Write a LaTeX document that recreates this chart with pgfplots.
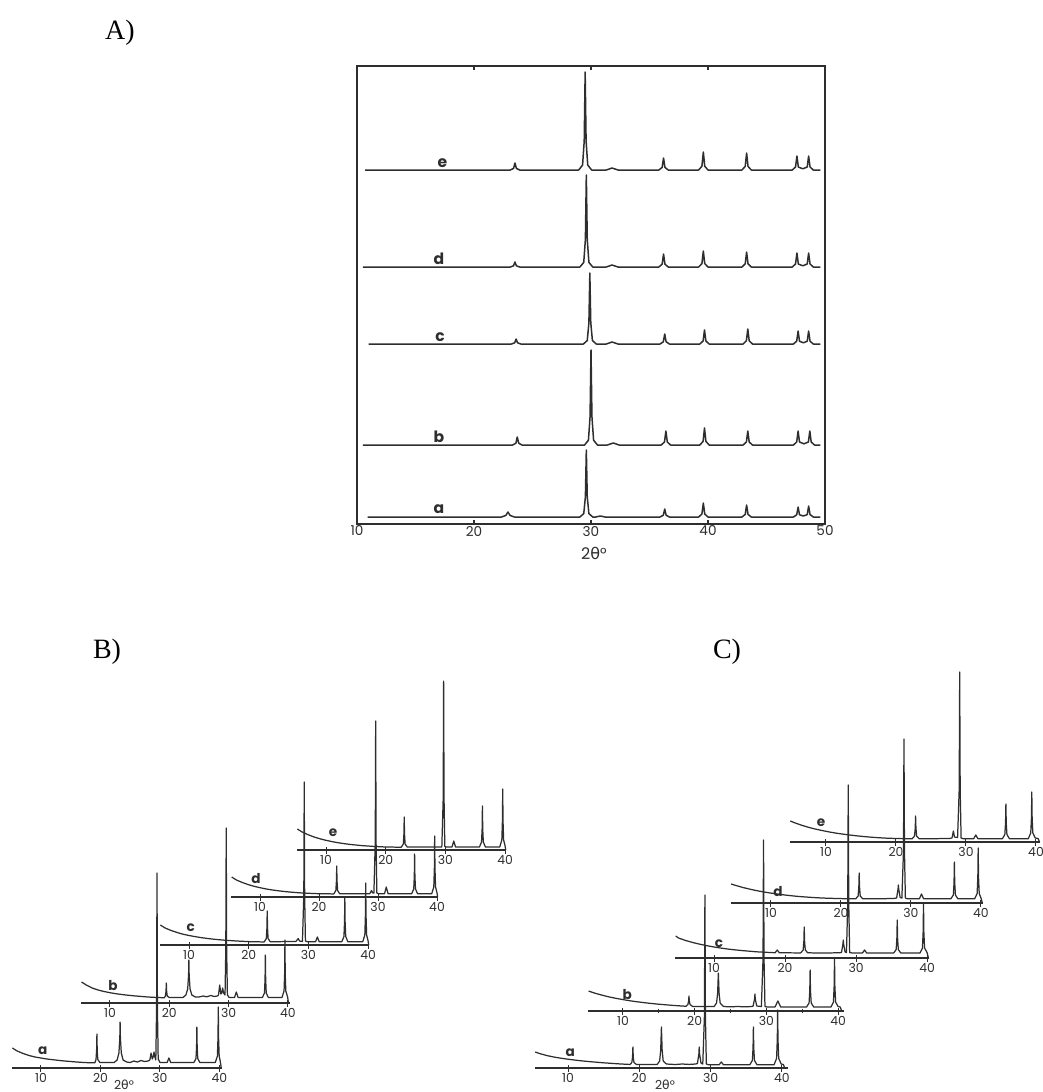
\documentclass[border=0pt]{standalone}
\usepackage{fontspec}
\setmainfont{Liberation Serif}
\newfontfamily\lab{Poppins}
\newfontfamily\gr{DejaVu Sans}
\usepackage{pgfplots}
\pgfplotsset{compat=1.18}
\colorlet{ink}{black!82}
\pgfplotsset{
  tr/.style={ink, line width=0.62pt, line join=round, mark=none},
  tra/.style={ink, line width=0.75pt, line join=round, mark=none},
  wf/.style={anchor=south west, axis x line*=bottom, axis y line=none, y=0.5pt, ymin=0, ymax=200,
    enlargelimits=false, clip=false, xtick={10,20,30,40}, ytick=\empty, tick align=center,
    major tick length=3.5pt, tick style={ink, line width=0.5pt}, axis line style={ink, line width=0.55pt},
    tick label style={font=\lab\fontsize{6.2}{7}\selectfont, text=ink, inner sep=0.5pt},
    /pgf/number format/assume math mode=true},
}
\newcommand\lbl[3]{\node[font=\lab\bfseries\fontsize{6.8}{7}\selectfont, text=ink] at (axis cs:#1,#2) {#3};}
\newcommand\lbla[3]{\node[font=\lab\bfseries\fontsize{7.8}{8}\selectfont, text=ink] at (axis cs:#1,#2) {#3};}
\begin{document}
\begin{tikzpicture}
\path[use as bounding box] (0,0) rectangle (521.5pt,-546pt);
\node[font=\fontsize{14}{16}\selectfont] at (60pt,-16.5pt) {A)};
\node[font=\fontsize{14}{16}\selectfont] at (53.5pt,-326pt) {B)};
\node[font=\fontsize{14}{16}\selectfont] at (363.5pt,-326pt) {C)};
% ---------------- Panel A ----------------
\begin{axis}[anchor=south west, at={(178.5pt,-262pt)}, x=5.85pt, y=0.5pt, xmin=10, xmax=50, ymin=0, ymax=458,
  enlargelimits=false, clip=false, xtick={10,20,30,40,50}, ytick=\empty, tick align=inside, major tick length=2.2pt,
  tick style={ink, line width=0.8pt}, axis line style={ink, line width=0.8pt},
  tick label style={font=\lab\fontsize{6.8}{7}\selectfont, text=ink, inner sep=0.8pt},
  /pgf/number format/assume math mode=true]
\addplot[tra] coordinates {(10.7,354)(23.1,354)(23.38,355.6)(23.5,361)(23.62,355.6)(23.9,354)
(28.95,354)(29.28,359)(29.42,383)(29.5,452)(29.58,383)(29.72,359)(30.05,354)
(31.3,354)(31.8,356)(32.3,354)
(35.8,354)(36.08,356.6)(36.2,366)(36.32,356.6)(36.6,354)
(39.2,354)(39.48,357.8)(39.6,372)(39.72,357.8)(40.0,354)
(42.9,354)(43.18,357.6)(43.3,371)(43.42,357.6)(43.7,354)
(47.2,354)(47.48,357)(47.6,368)(47.72,357)(48.1,355.2)(48.48,357)(48.6,368)(48.72,357)(49.0,354)(49.6,354)};
\addplot[tra] coordinates {(10.5,257)(23.1,257)(23.38,258.2)(23.5,262)(23.62,258.2)(23.9,257)
(29.05,257)(29.38,261.6)(29.52,284.6)(29.6,349)(29.68,284.6)(29.82,261.6)(30.15,257)
(31.3,257)(31.8,259)(32.3,257)
(35.8,257)(36.08,259.8)(36.2,270)(36.32,259.8)(36.6,257)
(39.2,257)(39.48,260.4)(39.6,273)(39.72,260.4)(40.0,257)
(42.9,257)(43.18,260.2)(43.3,272)(43.42,260.2)(43.7,257)
(47.2,257)(47.48,260)(47.6,271)(47.72,260)(48.1,258.2)(48.48,260)(48.6,271)(48.72,260)(49.0,257)(49.6,257)};
\addplot[tra] coordinates {(11.0,180)(23.2,180)(23.48,181.2)(23.6,185)(23.72,181.2)(24.0,180)
(29.35,180)(29.68,183.5)(29.82,201.3)(29.9,251)(29.98,201.3)(30.12,183.5)(30.45,180)
(31.3,180)(31.8,182)(32.3,180)
(35.9,180)(36.18,182.2)(36.3,190)(36.42,182.2)(36.7,180)
(39.3,180)(39.58,183)(39.7,194)(39.82,183)(40.1,180)
(43.0,180)(43.28,183.2)(43.4,195)(43.52,183.2)(43.8,180)
(47.3,180)(47.58,182.8)(47.7,193)(47.82,182.8)(48.15,181.2)(48.48,182.8)(48.6,193)(48.72,182.8)(49.0,180)(49.6,180)};
\addplot[tra] coordinates {(10.5,79)(23.3,79)(23.58,80.8)(23.7,87)(23.82,80.8)(24.1,79)
(29.45,79)(29.78,83.8)(29.92,107.5)(30.0,174)(30.08,107.5)(30.22,83.8)(30.55,79)
(31.4,79)(31.9,81)(32.4,79)
(36.0,79)(36.28,82)(36.4,93)(36.52,82)(36.8,79)
(39.3,79)(39.58,82.6)(39.7,96)(39.82,82.6)(40.1,79)
(43.0,79)(43.28,82)(43.4,93)(43.52,82)(43.8,79)
(47.3,79)(47.58,82)(47.7,93)(47.82,82)(48.2,80.2)(48.58,82)(48.7,93)(48.82,82)(49.1,79)(49.6,79)};
\addplot[tra] coordinates {(10.9,7)(22.35,7)(22.72,8.6)(22.9,12)(23.08,8.6)(23.45,7)
(29.05,7)(29.38,10.4)(29.52,27.1)(29.6,74)(29.68,27.1)(29.82,10.4)(30.15,7)
(30.4,7)(30.8,8)(31.2,7)
(35.9,7)(36.18,8.8)(36.3,15)(36.42,8.8)(36.7,7)
(39.2,7)(39.48,10)(39.6,21)(39.72,10)(40.0,7)
(42.9,7)(43.18,9.6)(43.3,19)(43.42,9.6)(43.7,7)
(47.3,7)(47.58,9.2)(47.7,17)(47.82,9.2)(48.15,8)(48.48,9.4)(48.6,18)(48.72,9.4)(49.0,7)(49.6,7)};
\lbla{17.3}{361}{e}\lbla{17.0}{265}{d}\lbla{17.1}{187}{c}\lbla{17.0}{87}{b}\lbla{17.0}{15}{a}
\end{axis}
\node[font=\lab\fontsize{8}{9}\selectfont, text=ink] at (297pt,-276.5pt) {2{\gr θ}°};
% ---------------- Panel B ----------------
\begin{axis}[wf, at={(6pt,-534pt)}, x=2.975pt, xmin=5.13, xmax=40.4]
\addplot[tr] coordinates {(5.2,20)(6,17)(7,14.5)(8,12.5)(9,11)(10,10)(11,9)(12,8.3)(13,7.6)(14,7)(15,6.5)(16,6)(17,5.6)(18,5.3)(18.9,5.2)
(19.05,5.2)(19.25,8.5)(19.35,18)(19.4,34)(19.45,18)(19.55,8.5)(19.9,5.5)
(22.3,5.5)(22.8,8)(23.1,15)(23.25,30)(23.3,46)(23.35,30)(23.5,15)(23.8,8)(24.4,6)
(25,5.5)(25.6,7)(26.2,6)(26.8,7.5)(27.4,6.5)(28.0,7)
(28.3,8)(28.5,15)(28.7,9)(28.85,11)(29.0,16)(29.1,12)
(29.3,8)(29.43,60)(29.5,195)(29.57,60)(29.7,9)(30.0,5.5)
(31.2,5.5)(31.5,10)(31.8,5.5)
(35.7,5.5)(36.05,9.5)(36.15,21)(36.2,41)(36.25,21)(36.35,9.5)(36.7,5.5)
(39.3,5.5)(39.65,12)(39.75,30)(39.8,61)(39.85,30)(39.95,12)(40.15,6)(40.3,0)};
\lbl{10.3}{17}{a}
\end{axis}
\node[font=\lab\fontsize{6.2}{7}\selectfont, text=ink] at (62pt,-542.3pt) {2{\gr θ}°};
\begin{axis}[wf, at={(40.5pt,-501.5pt)}, x=2.965pt, xmin=5.11, xmax=40.35]
\addplot[tr] coordinates {(5.2,21)(6,18)(7,15)(8,13)(9,11.5)(10,10.3)(11,9.3)(12,8.5)(13,7.8)(14,7.2)(15,6.7)(16,6.2)(17,5.8)(18,5.5)(19.0,5.3)
(19.15,5.3)(19.35,7)(19.45,12)(19.5,20)(19.55,12)(19.65,7)(20.0,5.5)
(22.3,5.5)(22.8,8)(23.1,14)(23.25,28)(23.3,43)(23.35,28)(23.5,14)(23.8,8)(24.4,6)
(25,6)(25.7,7)(26.3,6.2)(27,7.5)(27.6,6.5)(28.1,7)
(28.3,8)(28.5,18)(28.7,9)(28.85,10)(29.0,15)(29.15,10)
(29.4,8)(29.53,55)(29.6,175)(29.67,55)(29.8,8)(30.1,5.5)
(31.0,5.5)(31.3,11)(31.6,5.5)
(35.7,5.5)(36.05,10)(36.15,24)(36.2,48)(36.25,24)(36.35,10)(36.7,5.5)
(39.0,5.5)(39.35,12)(39.45,29)(39.5,63)(39.55,29)(39.65,12)(39.95,6)(40.1,0)};
\lbl{10.5}{17}{b}
\end{axis}
\begin{axis}[wf, at={(80pt,-472.5pt)}, x=2.985pt, xmin=5.14, xmax=40.1]
\addplot[tr] coordinates {(5.2,20)(6,17)(7,14.5)(8,12.5)(9,10.8)(10,9.5)(11,8.4)(12,7.4)(13,6.6)(14,5.9)(15,5.3)(16,4.8)(17,4.4)(18,4)(19,3.7)(20,3.4)(21,3.2)(22.5,3.1)
(22.6,3.1)(22.95,6.5)(23.05,17)(23.1,34)(23.15,17)(23.25,6.5)(23.6,3.3)
(27.9,3.5)(28.3,6.5)(28.5,4)
(29.0,3.5)(29.23,50)(29.3,163)(29.37,50)(29.5,4)(29.8,3.3)
(31.2,3.3)(31.5,8)(31.8,3.3)
(35.6,3.3)(35.95,8.5)(36.05,23)(36.1,47)(36.15,23)(36.25,8.5)(36.6,3.3)
(39.1,3.3)(39.45,10)(39.55,30)(39.6,62)(39.65,30)(39.75,10)(40.0,4)(40.1,0)};
\lbl{10.3}{17}{c}
\end{axis}
\begin{axis}[wf, at={(115.5pt,-448.5pt)}, x=2.95pt, xmin=5.08, xmax=40.1]
\addplot[tr] coordinates {(5.2,20)(6,17)(7,14.5)(8,12.4)(9,10.7)(10,9.3)(11,8.1)(12,7.1)(13,6.3)(14,5.6)(15,5)(16,4.5)(17,4.1)(18,3.8)(19,3.5)(20,3.3)(22.4,3.1)
(22.5,3.1)(22.85,6.5)(22.95,16)(23.0,31)(23.05,16)(23.15,6.5)(23.5,3.3)
(28.6,3.3)(28.9,6.5)(29.1,4)
(29.3,4)(29.53,55)(29.6,176)(29.67,55)(29.8,4)(30.1,3.3)
(31.1,3.3)(31.4,10)(31.7,3.3)
(35.7,3.3)(36.05,8)(36.15,21)(36.2,43)(36.25,21)(36.35,8)(36.7,3.3)
(39.1,3.3)(39.45,10)(39.55,29)(39.6,61)(39.65,29)(39.75,10)(40.0,4)(40.1,0)};
\lbl{9.3}{18}{d}
\end{axis}
\begin{axis}[wf, at={(148.5pt,-425pt)}, x=2.985pt, xmin=5.14, xmax=40.1]
\addplot[tr] coordinates {(5.2,21)(6,18)(7,15.3)(8,13)(9,11.2)(10,9.7)(11,8.4)(12,7.3)(13,6.4)(14,5.6)(15,5)(16,4.4)(17,4)(18,3.6)(19,3.3)(20,3)(22.5,2.8)
(22.6,2.8)(22.95,6)(23.05,16)(23.1,33)(23.15,16)(23.25,6)(23.6,3)
(29.4,3)(29.63,52)(29.7,169)(29.77,52)(29.9,3.5)(30.2,3)
(31.1,3)(31.4,9)(31.7,3)
(35.7,3)(36.05,8)(36.15,21)(36.2,44)(36.25,21)(36.35,8)(36.7,3)
(39.1,3)(39.45,10)(39.55,29)(39.6,61)(39.65,29)(39.75,10)(40.0,4)(40.1,0)};
\lbl{11.2}{17}{e}
\end{axis}
% ---------------- Panel C ----------------
\begin{axis}[wf, at={(267.5pt,-534pt)}, x=3.565pt, xmin=5.37, xmax=40.8]
\addplot[tr] coordinates {(5.4,16)(6,14.5)(7,12.5)(8,11)(9,9.8)(10,8.8)(11,7.9)(12,7.1)(13,6.4)(14,5.8)(15,5.2)(16,4.7)(17,4.2)(18,3.8)(18.6,3.6)
(18.7,3.6)(18.95,5.5)(19.05,11)(19.1,21)(19.15,11)(19.25,5.5)(19.6,3.5)
(22.5,3.5)(22.85,7)(23.0,18)(23.1,41)(23.2,18)(23.35,7)(23.8,4)
(25,3.5)(26,4)(27,3.6)(27.9,4)
(28.15,4.5)(28.35,14)(28.4,21)(28.45,14)(28.65,5)
(28.9,4)(29.13,52)(29.2,173)(29.27,52)(29.4,4)(29.7,3.3)
(31.2,3.3)(31.5,6)(31.8,3.3)
(35.5,3.3)(35.85,7.5)(35.95,20)(36.0,41)(36.05,20)(36.15,7.5)(36.5,3.3)
(38.9,3.3)(39.25,9.5)(39.35,28)(39.4,58)(39.45,28)(39.55,9.5)(39.9,4)(40.2,3.5)(40.4,0)};
\lbl{10.3}{15}{a}
\end{axis}
\node[font=\lab\fontsize{6.2}{7}\selectfont, text=ink] at (332.5pt,-542.3pt) {2{\gr θ}°};
\begin{axis}[wf, at={(294pt,-505.5pt)}, x=3.585pt, xmin=5.12, xmax=40.8, minor xtick={15,25,35}, minor tick length=2pt]
\addplot[tr] coordinates {(5.2,20)(6,18)(7,16)(8,14.2)(9,12.7)(10,11.4)(11,10.2)(12,9.2)(13,8.3)(14,7.5)(15,6.8)(16,6.2)(17,5.6)(18,5.1)(18.7,4.8)
(18.8,4.8)(19.05,6.5)(19.15,10)(19.2,15)(19.25,10)(19.35,6.5)(19.7,4.6)
(22.7,4.4)(23.05,8)(23.2,18)(23.3,38)(23.4,18)(23.55,8)(24.0,4.5)
(25,4.2)(26,4.5)(27,4.2)(28,4.5)
(28.15,5)(28.35,12)(28.4,17)(28.45,12)(28.65,5)
(29.3,4.5)(29.53,52)(29.6,171)(29.67,52)(29.8,4.5)(30.1,4)
(31.2,4)(31.6,10)(32.0,4)
(35.6,4)(35.95,8)(36.05,20)(36.1,41)(36.15,20)(36.25,8)(36.6,4)
(39.0,4)(39.35,9)(39.45,25)(39.5,53)(39.55,25)(39.65,9)(40.0,4.5)(40.3,4)(40.5,0)};
\lbl{10.6}{16}{b}
\end{axis}
\begin{axis}[wf, at={(337.5pt,-479pt)}, x=3.55pt, xmin=4.5, xmax=40.3]
\addplot[tr] coordinates {(4.6,22)(5,20)(6,17.5)(7,15.5)(8,13.8)(9,12.3)(10,11)(11,9.9)(12,8.9)(13,8.1)(14,7.4)(15,6.8)(16,6.2)(17,5.8)(18,5.5)(18.6,5.3)
(18.9,8)(19.2,5.2)
(22.2,5.1)(22.55,8)(22.65,17)(22.7,31)(22.75,17)(22.85,8)(23.2,5.2)
(25,5)(27.5,5.2)
(27.95,5.5)(28.15,14)(28.2,18)(28.25,14)(28.45,6)
(28.65,5.5)(28.83,55)(28.9,173)(28.97,55)(29.1,5.5)(29.4,5.1)
(30.9,5)(31.2,8)(31.5,5)
(35.3,5)(35.65,8.5)(35.75,20)(35.8,38)(35.85,20)(35.95,8.5)(36.3,5)
(39.0,5)(39.35,10)(39.45,26)(39.5,55)(39.55,26)(39.65,10)(40.0,5.5)(40.2,0)};
\lbl{10.7}{14}{c}
\end{axis}
\begin{axis}[wf, at={(365.5pt,-451.5pt)}, x=3.5pt, xmin=4.29, xmax=40.3]
\addplot[tr] coordinates {(4.3,19)(5,17.5)(6,15.5)(7,13.8)(8,12.3)(9,11)(10,9.9)(11,8.9)(12,8)(13,7.2)(14,6.5)(15,6)(16,5.5)(17,5.1)(18,4.8)(20,4.4)(22.0,4.2)
(22.1,4.2)(22.45,7)(22.55,16)(22.6,30)(22.65,16)(22.75,7)(23.1,4.3)
(25,4.2)(27.5,4.5)
(27.95,5)(28.15,14)(28.2,18)(28.25,14)(28.45,5.5)
(28.7,5)(28.93,52)(29.0,164)(29.07,52)(29.2,5)(29.5,4.2)
(31.2,4.2)(31.5,9)(31.8,4.2)
(35.7,4.2)(36.05,8)(36.15,20)(36.2,41)(36.25,20)(36.35,8)(36.7,4.2)
(39.1,4.2)(39.45,9.5)(39.55,26)(39.6,55)(39.65,26)(39.75,9.5)(40.0,5)(40.2,0)};
\lbl{11}{11}{d}
\end{axis}
\begin{axis}[wf, at={(395pt,-421pt)}, x=3.5pt, xmin=4.86, xmax=40.6]
\addplot[tr] coordinates {(4.9,21)(5.5,19.3)(6.5,16.8)(7.5,14.7)(8.5,12.9)(9.5,11.4)(10.5,10)(11.5,8.8)(12.5,7.8)(13.5,6.9)(14.5,6.1)(15.5,5.4)(16.5,4.8)(17.5,4.3)(18.5,3.9)(20,3.5)(22.2,3.2)
(22.3,3.2)(22.65,6)(22.75,14)(22.8,26)(22.85,14)(22.95,6)(23.3,3.3)
(25,3.3)(27.6,3.5)
(28.0,4)(28.2,11)(28.35,5)
(28.8,4.5)(29.03,53)(29.1,170)(29.17,53)(29.3,4)(29.6,3.3)
(31.1,3.3)(31.4,7)(31.7,3.3)
(35.2,3.3)(35.55,7.5)(35.65,19)(35.7,38)(35.75,19)(35.85,7.5)(36.2,3.3)
(38.9,3.3)(39.25,9)(39.35,24)(39.4,50)(39.45,24)(39.55,9)(39.9,4)(40.3,3.5)(40.5,0)};
\lbl{9.3}{19}{e}
\end{axis}
\end{tikzpicture}
\end{document}
